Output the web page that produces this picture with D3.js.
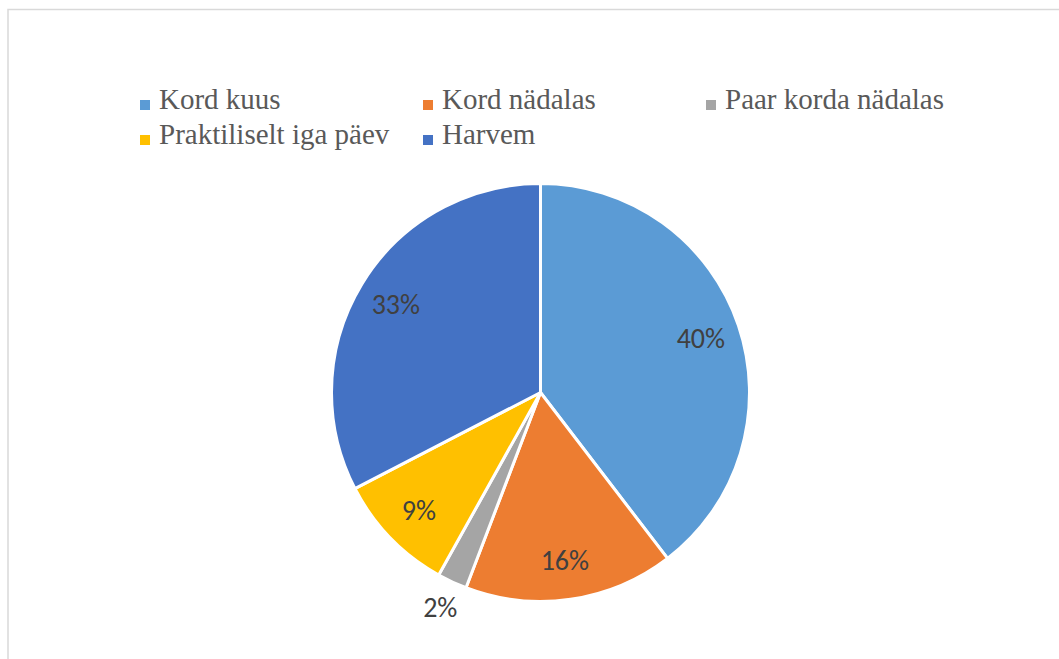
<!DOCTYPE html>
<html><head><meta charset="utf-8">
<script src="https://cdn.jsdelivr.net/npm/d3@7"></script>
<style>html,body{margin:0;padding:0;background:#fff;}svg{display:block;}</style>
</head><body>
<svg id="chart" width="1059" height="659"></svg>
<script>
const categories = ["Kord kuus", "Kord nädalas", "Paar korda nädalas", "Praktiliselt iga päev", "Harvem"];
const values = [39.6, 16.2, 2.3, 9.3, 32.6];
const colors = ["#5B9BD5", "#ED7D31", "#A5A5A5", "#FFC000", "#4472C4"];
const outsideLabel = [false, false, true, false, false];

const svg = d3.select("#chart");
// chart border
svg.append("rect").attr("x", 8).attr("y", 9.5).attr("width", 1100).attr("height", 700)
  .attr("fill", "#fff").attr("stroke", "#d9d9d9").attr("stroke-width", 1.5);

const cx = 540.5, cy = 392.5, R = 209;
const pie = d3.pie().sort(null).value(d => d.v);
const data = categories.map((c, i) => ({c, v: values[i], col: colors[i], out: outsideLabel[i]}));
const arcs = pie(data);
const arc = d3.arc().innerRadius(0).outerRadius(R);
const labelArc = d3.arc().innerRadius(R * 0.81).outerRadius(R * 0.81);
const outArc = d3.arc().innerRadius(R + 28).outerRadius(R + 28);

const g = svg.append("g").attr("transform", `translate(${cx},${cy})`);
g.selectAll("path").data(arcs).join("path")
  .attr("d", arc).attr("fill", d => d.data.col)
  .attr("stroke", "#fff").attr("stroke-width", 3).attr("stroke-linejoin", "round");

const total = d3.sum(values);
g.selectAll("text.lbl").data(arcs).join("text").attr("class", "lbl")
  .attr("transform", d => `translate(${(d.data.out ? outArc : labelArc).centroid(d)})`)
  .attr("text-anchor", "middle").attr("dy", "0.35em")
  .attr("font-family", "Carlito, 'Open Sans', 'Noto Sans', sans-serif")
  .attr("font-size", 28).attr("fill", "#404040")
  .text(d => Math.round(d.data.v / total * 100) + "%");

// legend
const legendPos = [[140, 109], [423, 109], [706, 109], [140, 144], [423, 144]];
const lg = svg.append("g");
data.forEach((d, i) => {
  const [x, y] = legendPos[i];
  lg.append("rect").attr("x", x).attr("y", y - 9).attr("width", 10).attr("height", 10).attr("fill", d.col);
  lg.append("text").attr("x", x + 19).attr("y", y)
    .attr("font-family", "'Liberation Serif', 'Times New Roman', serif")
    .attr("font-size", 29).attr("fill", "#595959").text(d.c);
});
</script>
</body></html>
